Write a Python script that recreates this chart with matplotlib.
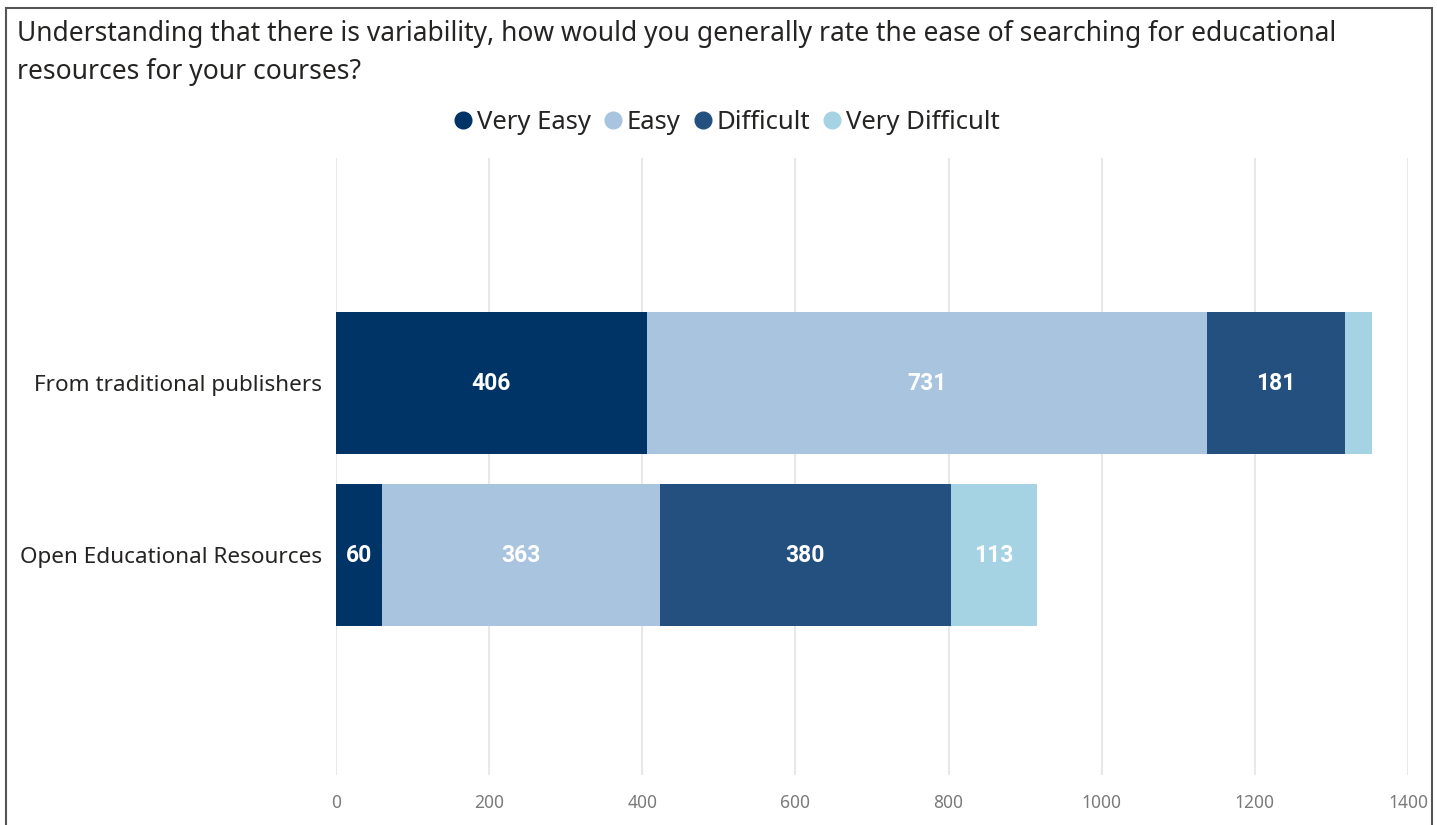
import matplotlib
matplotlib.use("Agg")
from matplotlib import pyplot as plt
from matplotlib.patches import Rectangle
from matplotlib.lines import Line2D

title = ("Understanding that there is variability, how would you generally rate the ease of searching for educational\n"
         "resources for your courses?")
categories = ["Open Educational Resources", "From traditional publishers"]
ratings = ["Very Easy", "Easy", "Difficult", "Very Difficult"]
very_easy = [60, 406]
easy = [363, 731]
difficult = [380, 181]
very_difficult = [113, 35]

colors = ["#003366", "#a8c4df", "#23507f", "#a6d3e3"]

plt.rcParams["font.family"] = ["Noto Sans", "DejaVu Sans"]

fig = plt.figure(figsize=(14.37, 8.25), dpi=100)
ax = fig.add_axes([0.2338, 0.0606, 0.746, 0.7479])

series = [very_easy, easy, difficult, very_difficult]
ypos = list(range(len(categories)))
left = [0] * len(categories)
for i, vals in enumerate(series):
    bars = ax.barh(ypos, vals, left=left, height=0.83, color=colors[i], zorder=3)
    for b, v in zip(bars, vals):
        # the thin last segment has no label in the original
        if v < 50:
            continue
        ax.text(b.get_x() + b.get_width() / 2, b.get_y() + b.get_height() / 2, str(v),
                ha="center", va="center", color="white", fontsize=16.5,
                fontweight="bold", family="Roboto", zorder=4)
    left = [l + v for l, v in zip(left, vals)]

ax.set_xlim(0, 1400)
ax.set_ylim(-1.28, 2.31)
ax.set_xticks(range(0, 1401, 200))
ax.set_yticks(ypos)
ax.set_yticklabels(categories, fontsize=16.2, color="#252423")
ax.tick_params(axis="y", length=0, pad=10)
ax.tick_params(axis="x", length=0, pad=14, labelsize=12.5, labelcolor="#7a7a7a")
ax.grid(axis="x", color="#e8e8e8", linewidth=1.5, zorder=0)
for s in ax.spines.values():
    s.set_visible(False)

fig.text(0.012, 0.976, title, fontsize=19, color="#252423", ha="left", va="top",
         linespacing=1.5)

handles = [Line2D([], [], marker="o", linestyle="", markersize=12, color=c) for c in colors]
fig.legend(handles, ratings, loc="center", bbox_to_anchor=(0.5, 0.851), ncol=4,
           frameon=False, fontsize=18.5, handletextpad=-0.45, columnspacing=-0.15,
           labelcolor="#252423")

fig.patches.append(Rectangle((6 / 1437, -0.05), 1426 / 1437, 1.04, transform=fig.transFigure,
                             fill=False, edgecolor="#555555", linewidth=1.5))

fig.savefig("out.png", dpi=100)
